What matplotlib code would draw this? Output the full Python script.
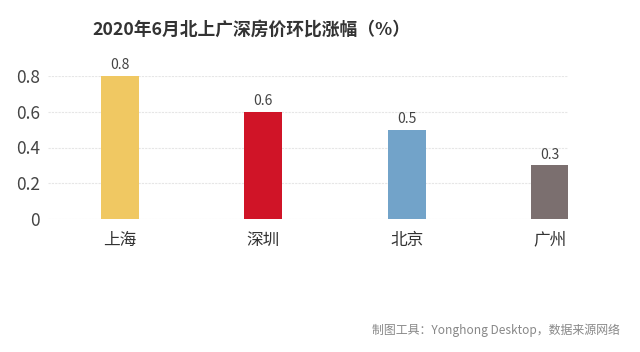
import matplotlib
matplotlib.use("Agg")
import matplotlib.pyplot as plt

plt.rcParams['font.family'] = ['Noto Sans CJK SC', 'DejaVu Sans']

cities = ['上海', '深圳', '北京', '广州']
values = [0.8, 0.6, 0.5, 0.3]
value_labels = ['0.8', '0.6', '0.5', '0.3']
colors = ['#F0C862', '#D01427', '#72A3C9', '#7B6F6F']
yticks = [0, 0.2, 0.4, 0.6, 0.8]
ytick_labels = ['0', '0.2', '0.4', '0.6', '0.8']

fig = plt.figure(figsize=(6.4, 3.52), dpi=100)
ax = fig.add_axes([48/640, 1-219/352, (568-48)/640, (219-76)/352])

x = list(range(len(cities)))
bars = ax.bar(x, values, width=0.265, color=colors, zorder=3)
for xi, v, lab in zip(x, values, value_labels):
    ax.text(xi, v + 0.02, lab, ha='center', va='bottom', fontsize=10, color='#444444')

ax.set_xlim(-0.5, 3.125)
ax.set_ylim(0, 0.8)
ax.set_yticks(yticks)
ax.set_yticklabels(ytick_labels, fontsize=12.5, color='#444444')
ax.set_xticks(x)
ax.set_xticklabels(cities, fontsize=12, color='#333333')
ax.tick_params(axis='both', length=0)
ax.tick_params(axis='y', pad=6)
ax.tick_params(axis='x', pad=9)
for s in ax.spines.values():
    s.set_visible(False)
ax.yaxis.grid(True, color='#e6e6e6', linestyle=(0, (2, 1)), linewidth=0.8, zorder=0)
ax.set_axisbelow(True)

fig.text(251/640, 1-30/352, '2020年6月北上广深房价环比涨幅（%）', ha='center', va='center',
         fontsize=12.8, fontweight='bold', color='#333333')
fig.text(620/640, 1-330/352, '制图工具：Yonghong Desktop，数据来源网络', ha='right', va='center',
         fontsize=8.6, color='#888888')

fig.savefig('out.png', dpi=100)
